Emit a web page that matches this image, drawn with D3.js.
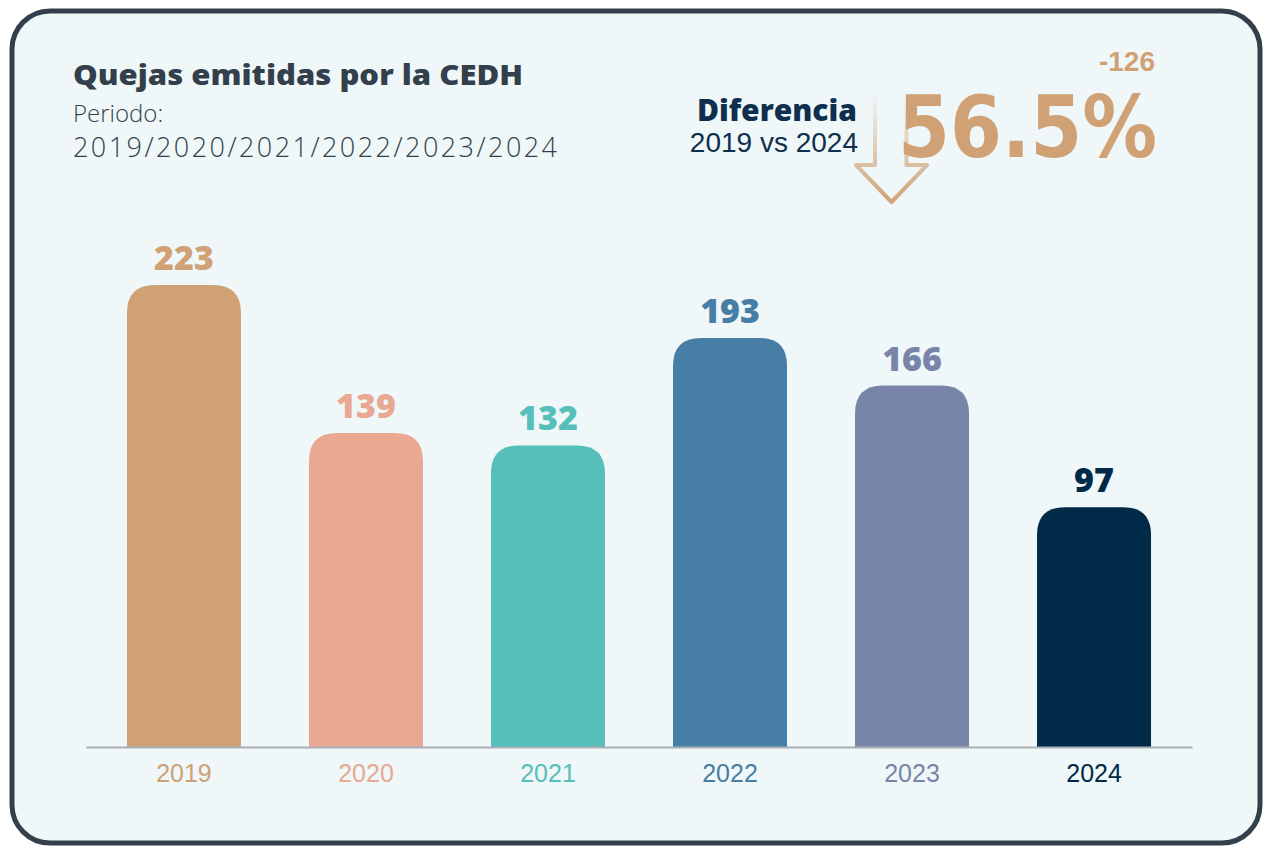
<!DOCTYPE html>
<html><head><meta charset="utf-8">
<script src="https://cdn.jsdelivr.net/npm/d3@7"></script>
<style>html,body{margin:0;padding:0;background:#fff;}svg{display:block;}</style>
</head><body>
<script>
const years = ["2019","2020","2021","2022","2023","2024"];
const values = [223,139,132,193,166,97];
const colors = ["#cfa174","#e9a891","#57bfba","#477ea6","#7885a9","#002a48"];
const title = "Quejas emitidas por la CEDH";
const periodLabel = "Periodo:";
const periodText = "2019/2020/2021/2022/2023/2024";
const diffTitle = "Diferencia";
const diffSub = "2019 vs 2024";
const diffPct = "56.5%";
const diffAbs = "-126";

const W = 1265, H = 846;
const svg = d3.select("body").append("svg").attr("width", W).attr("height", H);

// card
svg.append("rect").attr("x",12).attr("y",11).attr("width",1248).attr("height",832)
  .attr("rx",38).attr("fill","#eff7f9").attr("stroke","#333f4a").attr("stroke-width",5);

const x = d3.scaleBand().domain(years).range([86,1192]).paddingInner(0.3736).paddingOuter(0.225);
const y = d3.scaleLinear().domain([-39,223]).range([747,285]);

const r = 28;
function barPath(x0,w,yt,yb){
  const rr = Math.min(r, w/2, (yb-yt));
  return `M${x0},${yb} L${x0},${yt+rr} Q${x0},${yt} ${x0+rr},${yt} L${x0+w-rr},${yt} Q${x0+w},${yt} ${x0+w},${yt+rr} L${x0+w},${yb} Z`;
}
const g = svg.append("g");
g.selectAll("path.bar").data(values).join("path").attr("class","bar")
  .attr("d",(d,i)=>barPath(x(years[i]), x.bandwidth(), y(d), y(-39)))
  .attr("fill",(d,i)=>colors[i]);

g.selectAll("text.val").data(values).join("text").attr("class","val")
  .attr("x",(d,i)=>x(years[i])+x.bandwidth()/2).attr("y",d=>y(d)-15)
  .attr("text-anchor","middle").attr("font-family","'Open Sans', sans-serif").attr("font-weight",800)
  .attr("font-size",34).attr("fill",(d,i)=>colors[i]).text(d=>d);

// axis
const axis = svg.append("g").attr("transform","translate(0,747)").call(d3.axisBottom(x).tickSize(0).tickPadding(17));
axis.select(".domain").attr("stroke","#aab0b6").attr("stroke-width",2);
axis.selectAll(".tick text").attr("font-family","'Liberation Sans', Arial, sans-serif").attr("font-size",25)
  .attr("fill",(d,i)=>colors[i]);

// titles
svg.append("text").attr("x",73).attr("y",85).attr("font-family","'Open Sans', sans-serif").attr("font-weight",800)
  .attr("font-size",28).attr("fill","#333f4a").attr("textLength",450).attr("lengthAdjust","spacingAndGlyphs").text(title);
svg.append("text").attr("x",73).attr("y",122).attr("font-family","'Open Sans', sans-serif").attr("font-weight",300)
  .attr("font-size",24).attr("fill","#333f4a").text(periodLabel);
svg.append("text").attr("x",73).attr("y",157).attr("font-family","'Open Sans', sans-serif").attr("font-weight",300)
  .attr("font-size",27).attr("fill","#333f4a").attr("textLength",484).attr("lengthAdjust","spacing").text(periodText);

// arrow
const defs = svg.append("defs");
const grad = defs.append("linearGradient").attr("id","ag").attr("gradientUnits","userSpaceOnUse")
  .attr("x1",0).attr("y1",93).attr("x2",0).attr("y2",205);
grad.append("stop").attr("offset","0").attr("stop-color","#cfa174").attr("stop-opacity",0);
grad.append("stop").attr("offset","0.7").attr("stop-color","#cfa174").attr("stop-opacity",0.7);
grad.append("stop").attr("offset","1").attr("stop-color","#cfa174").attr("stop-opacity",1);
svg.append("path").attr("d","M875,93 L875,165 L856,165 L891.5,202 L927,165 L906.5,165 L906.5,93")
  .attr("fill","none").attr("stroke","url(#ag)").attr("stroke-width",4).attr("stroke-linejoin","round");

svg.append("text").attr("x",857).attr("y",121).attr("text-anchor","end").attr("font-family","'Open Sans', sans-serif")
  .attr("font-weight",800).attr("font-size",30).attr("fill","#0f2f4f").text(diffTitle);
svg.append("text").attr("x",858).attr("y",152).attr("text-anchor","end").attr("font-family","'Liberation Sans', Arial, sans-serif")
  .attr("font-size",28).attr("fill","#0f2f4f").text(diffSub);

svg.append("text").attr("x",898).attr("y",157).attr("font-family","'DejaVu Sans', sans-serif")
  .attr("font-weight",700).attr("font-size",86).attr("fill","#cfa174")
  .attr("textLength",259).attr("lengthAdjust","spacingAndGlyphs").text(diffPct);
svg.append("text").attr("x",1155).attr("y",71).attr("text-anchor","end").attr("font-family","'Liberation Sans', Arial, sans-serif")
  .attr("font-weight",700).attr("font-size",28).attr("fill","#cfa174").text(diffAbs);
</script>
</body></html>
